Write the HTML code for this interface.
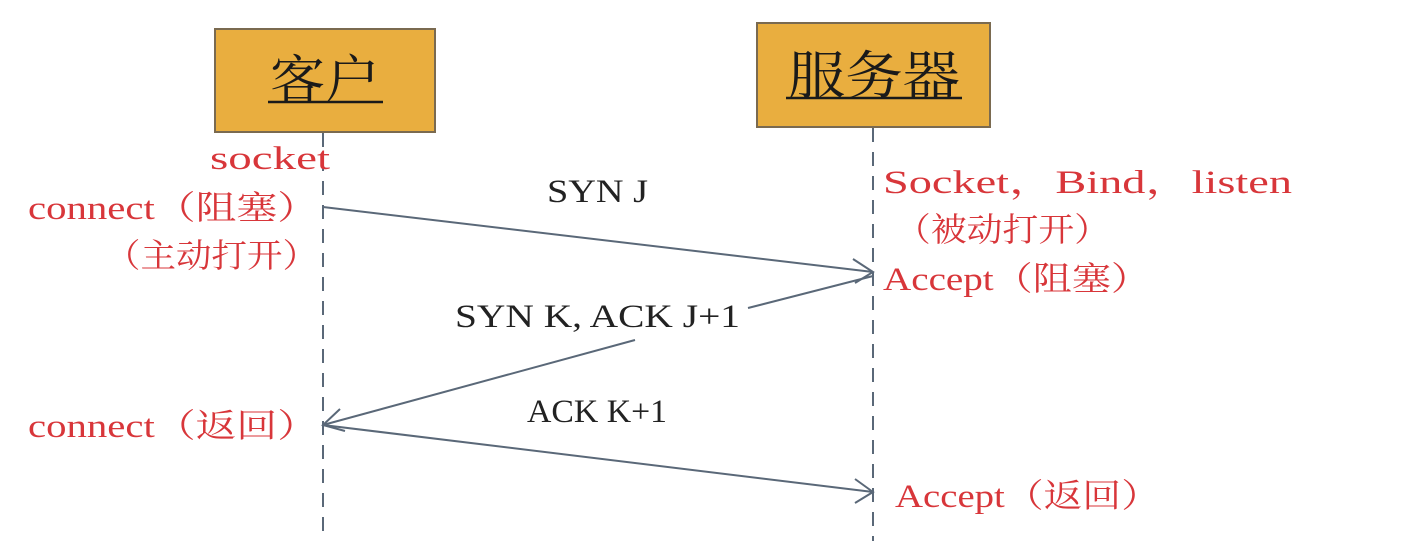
<!DOCTYPE html>
<html><head><meta charset="utf-8"><style>
html,body{margin:0;padding:0;background:#fff;}
svg{display:block;}
.r{fill:#d8363a;font-family:"Liberation Serif","Noto Serif CJK SC",serif;font-size:33px;}
.b{fill:#222;font-family:"Liberation Serif","Noto Serif CJK SC",serif;font-size:33px;}
.h{fill:#1a1a1a;font-family:"Liberation Serif","Noto Serif CJK SC",serif;font-size:52px;}
</style></head><body>
<svg width="1402" height="541" viewBox="0 0 1402 541" xmlns="http://www.w3.org/2000/svg">
<rect x="215" y="29" width="220" height="103" fill="#e9ae3f" stroke="#7a6a50" stroke-width="2"/>
<rect x="757" y="23" width="233" height="104" fill="#e9ae3f" stroke="#7a6a50" stroke-width="2"/>
<text class="h" x="270" y="98" textLength="110" lengthAdjust="spacingAndGlyphs">客户</text>
<line x1="268" y1="102" x2="383" y2="102" stroke="#1a1a1a" stroke-width="2.5"/>
<text class="h" x="788" y="94" textLength="172" lengthAdjust="spacingAndGlyphs">服务器</text>
<line x1="786" y1="98" x2="962" y2="98" stroke="#1a1a1a" stroke-width="2.5"/>
<g stroke="#5a6878" stroke-width="2" stroke-dasharray="14,10">
<line x1="323" y1="133" x2="323" y2="541"/>
<line x1="873" y1="128" x2="873" y2="541"/>
</g>
<g stroke="#5a6878" stroke-width="2" fill="none">
<line x1="323" y1="207" x2="873" y2="272"/>
<polyline points="853,259 873,272 855,283"/>
<line x1="873" y1="276" x2="748" y2="308"/>
<line x1="635" y1="340" x2="323" y2="425"/>
<polyline points="340,409 323,425 345,431"/>
<line x1="323" y1="425" x2="873" y2="492"/>
<polyline points="855,479 873,492 855,503"/>
</g>
<text class="r" x="210" y="169" textLength="120" lengthAdjust="spacingAndGlyphs">socket</text>
<text class="r" x="28" y="219" textLength="290" lengthAdjust="spacingAndGlyphs">connect（阻塞）</text>
<text class="r" x="105" y="267" textLength="213" lengthAdjust="spacingAndGlyphs">（主动打开）</text>
<text class="r" x="28" y="437" textLength="290" lengthAdjust="spacingAndGlyphs">connect（返回）</text>
<text class="r" x="883" y="193" textLength="409" lengthAdjust="spacingAndGlyphs">Socket，Bind，listen</text>
<text class="r" x="895" y="241" textLength="215" lengthAdjust="spacingAndGlyphs">（被动打开）</text>
<text class="r" x="883" y="290" textLength="267" lengthAdjust="spacingAndGlyphs">Accept（阻塞）</text>
<text class="r" x="895" y="507" textLength="265" lengthAdjust="spacingAndGlyphs">Accept（返回）</text>
<text class="b" x="547" y="202" textLength="101" lengthAdjust="spacingAndGlyphs">SYN J</text>
<text class="b" x="455" y="327" textLength="285" lengthAdjust="spacingAndGlyphs">SYN K, ACK J+1</text>
<text class="b" x="527" y="422" textLength="140" lengthAdjust="spacingAndGlyphs">ACK K+1</text>
</svg>
</body></html>
